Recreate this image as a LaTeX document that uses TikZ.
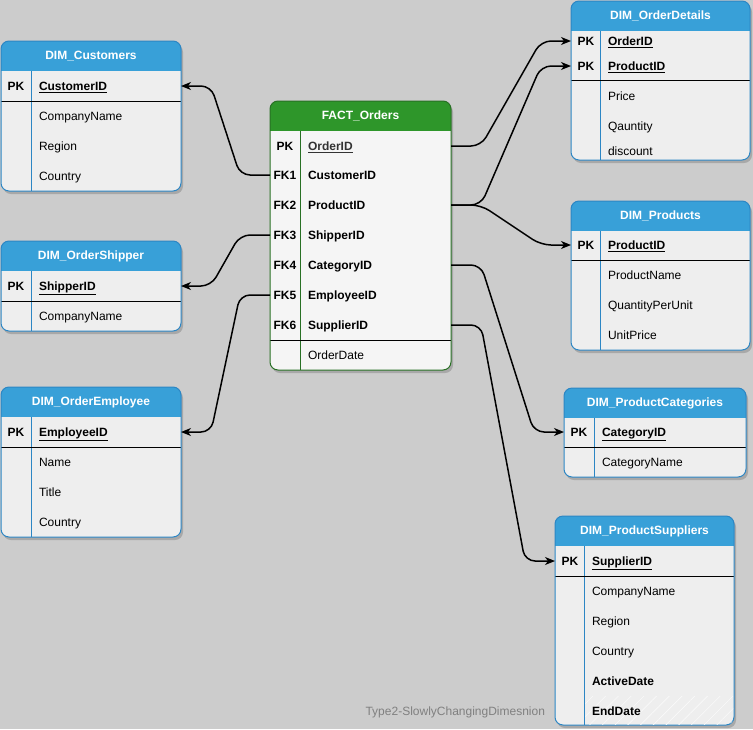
\documentclass[tikz,border=0pt]{standalone}
\usepackage{fontspec}
\setmainfont{Liberation Sans}
\usetikzlibrary{arrows.meta,patterns.meta}

\definecolor{bggray}{RGB}{204,204,204}
\definecolor{dimhead}{RGB}{56,160,216}
\definecolor{dimline}{RGB}{44,134,196}
\definecolor{dimbody}{RGB}{238,238,238}
\definecolor{facthead}{RGB}{46,150,42}
\definecolor{factline}{RGB}{40,112,36}
\definecolor{factbody}{RGB}{245,245,245}
\definecolor{capgray}{RGB}{128,128,128}
\definecolor{shadowgray}{RGB}{168,168,168}
\definecolor{keygray}{RGB}{51,51,51}

\begin{document}
\begin{tikzpicture}[x=1pt,y=-1pt,
  every node/.style={inner sep=0pt, outer sep=0pt, font=\fontsize{12}{14}\selectfont},
  head/.style={text=white, font=\fontsize{12}{14}\selectfont\bfseries},
  key/.style={minimum width=30pt, text height=8.6pt, text depth=0pt, font=\fontsize{12}{14}\selectfont\bfseries},
  fld/.style={anchor=west, text width=#1, inner xsep=8pt, text height=8.6pt, text depth=0pt, align=left},
  fldb/.style={fld=#1, font=\fontsize{12}{14}\selectfont\bfseries},
  link/.style={draw=black, line width=1.5pt, rounded corners=10pt, -{Stealth[length=10pt,width=8pt,inset=3pt]}},
  sep/.style={black, line width=0.8pt}]
  \fill[bggray] (0,0) rectangle (753,729);
  \useasboundingbox (0,0) rectangle (753,729);

  % table frames: x1/y1/x2/y2/header/separator/divider/colours
  \foreach \xa/\ya/\xb/\yb/\yh/\ys/\xd/\hc/\lc/\fc in {
      1/41/181/191/71/101/31/dimhead/dimline/dimbody,
      1/241/181/331/271/301/31/dimhead/dimline/dimbody,
      1/387/181/537/417/447/31/dimhead/dimline/dimbody,
      270/101/451/370/131/340/300/facthead/factline/factbody,
      571/1/750/160/31/80/600/dimhead/dimline/dimbody,
      571/201/750/350/231/260/600/dimhead/dimline/dimbody,
      564/388/746/477/418/447/594/dimhead/dimline/dimbody,
      555/516/734/725/546/576/584/dimhead/dimline/dimbody}{
    \fill[shadowgray, rounded corners=8pt] (\xa+2,\ya+3) rectangle (\xb+2,\yb+3);
    \fill[\fc, rounded corners=8pt] (\xa,\ya) rectangle (\xb,\yb);
    \begin{scope}
      \clip[rounded corners=8pt] (\xa,\ya) rectangle (\xb,\yb);
      \fill[\hc] (\xa,\ya) rectangle (\xb,\yh);
    \end{scope}
    \draw[\lc] (\xd,\yh) -- (\xd,\yb);
    \draw[sep] (\xa,\ys) -- (\xb,\ys);
    \draw[\lc, line width=1pt, rounded corners=8pt] (\xa,\ya) rectangle (\xb,\yb);
  }
  \begin{scope}
    \clip[rounded corners=8pt] (555,516) rectangle (734,725);
    \fill[pattern={Lines[angle=45,distance=9pt,line width=0.6pt]}, pattern color=white!70!dimbody] (585,696) rectangle (733,724);
  \end{scope}

  % DIM_Customers
  \node[head] (cust) at (91,56) {DIM\_Customers};
  \node[key] (cust-pk) at (16,86) {PK};
  \node[fldb=134pt] (cust-id) at (31,86) {\underline{CustomerID}};
  \node[fld=134pt] (cust-name) at (31,116) {CompanyName};
  \node[fld=134pt] (cust-reg) at (31,146) {Region};
  \node[fld=134pt] (cust-ctry) at (31,176) {Country};

  % DIM_OrderShipper
  \node[head] (ship) at (91,256) {DIM\_OrderShipper};
  \node[key] (ship-pk) at (16,286) {PK};
  \node[fldb=134pt] (ship-id) at (31,286) {\underline{ShipperID}};
  \node[fld=134pt] (ship-name) at (31,316) {CompanyName};

  % DIM_OrderEmployee
  \node[head] (emp) at (91,402) {DIM\_OrderEmployee};
  \node[key] (emp-pk) at (16,432) {PK};
  \node[fldb=134pt] (emp-id) at (31,432) {\underline{EmployeeID}};
  \node[fld=134pt] (emp-name) at (31,462) {Name};
  \node[fld=134pt] (emp-title) at (31,492) {Title};
  \node[fld=134pt] (emp-ctry) at (31,522) {Country};

  % FACT_Orders
  \node[head] (fact) at (360.5,116) {FACT\_Orders};
  \node[key] (fact-pk) at (285,146) {PK};
  \node[fldb=135pt, text=keygray] (fact-oid) at (300,146) {\underline{OrderID}};
  \node[key] (fact-fk1) at (285,175) {FK1};
  \node[fldb=135pt] (fact-cust) at (300,175) {CustomerID};
  \node[key] (fact-fk2) at (285,205) {FK2};
  \node[fldb=135pt] (fact-prod) at (300,205) {ProductID};
  \node[key] (fact-fk3) at (285,235) {FK3};
  \node[fldb=135pt] (fact-ship) at (300,235) {ShipperID};
  \node[key] (fact-fk4) at (285,265) {FK4};
  \node[fldb=135pt] (fact-cat) at (300,265) {CategoryID};
  \node[key] (fact-fk5) at (285,295) {FK5};
  \node[fldb=135pt] (fact-emp) at (300,295) {EmployeeID};
  \node[key] (fact-fk6) at (285,325) {FK6};
  \node[fldb=135pt] (fact-sup) at (300,325) {SupplierID};
  \node[fld=135pt] (fact-date) at (300,355) {OrderDate};

  % DIM_OrderDetails
  \node[head] (det) at (660.5,16) {DIM\_OrderDetails};
  \node[key] (det-pk1) at (586,41) {PK};
  \node[fldb=134pt] (det-oid) at (600,41) {\underline{OrderID}};
  \node[key] (det-pk2) at (586,66) {PK};
  \node[fldb=134pt] (det-pid) at (600,66) {\underline{ProductID}};
  \node[fld=134pt] (det-price) at (600,96) {Price};
  \node[fld=134pt] (det-qty) at (600,126) {Qauntity};
  \node[fld=134pt] (det-disc) at (600,151) {discount};

  % DIM_Products
  \node[head] (prod) at (660.5,216) {DIM\_Products};
  \node[key] (prod-pk) at (586,245) {PK};
  \node[fldb=134pt] (prod-id) at (600,245) {\underline{ProductID}};
  \node[fld=134pt] (prod-name) at (600,275) {ProductName};
  \node[fld=134pt] (prod-qpu) at (600,305) {QuantityPerUnit};
  \node[fld=134pt] (prod-price) at (600,335) {UnitPrice};

  % DIM_ProductCategories
  \node[head] (cat) at (655,403) {DIM\_ProductCategories};
  \node[key] (cat-pk) at (579,432) {PK};
  \node[fldb=136pt] (cat-id) at (594,432) {\underline{CategoryID}};
  \node[fld=136pt] (cat-name) at (594,462) {CategoryName};

  % DIM_ProductSuppliers
  \node[head] (sup) at (644.5,531) {DIM\_ProductSuppliers};
  \node[key] (sup-pk) at (570,561) {PK};
  \node[fldb=134pt] (sup-id) at (584,561) {\underline{SupplierID}};
  \node[fld=134pt] (sup-name) at (584,591) {CompanyName};
  \node[fld=134pt] (sup-reg) at (584,621) {Region};
  \node[fld=134pt] (sup-ctry) at (584,651) {Country};
  \node[fldb=134pt] (sup-act) at (584,681) {ActiveDate};
  \node[fldb=134pt] (sup-end) at (584,711) {EndDate};

  \node[anchor=east, text=capgray, font=\fontsize{12}{14}\selectfont] (note) at (545,712) {Type2-SlowlyChangingDimesnion};

  % relations
  \draw[link] (fact-fk1.west) -- ++(-30,0) -- ([xshift=30pt]cust-id.east) -- (cust-id.east);
  \draw[link] (fact-fk3.west) -- ++(-30,0) -- ([xshift=30pt]ship-id.east) -- (ship-id.east);
  \draw[link] (fact-fk5.west) -- ++(-30,0) -- ([xshift=30pt]emp-id.east) -- (emp-id.east);
  \draw[link] (fact-oid.east) -- ++(30,0) -- ([xshift=-30pt]det-pk1.west) -- (det-pk1.west);
  \draw[link] (fact-prod.east) -- ++(30,0) -- ([xshift=-30pt]det-pk2.west) -- (det-pk2.west);
  \draw[link] (fact-prod.east) -- ++(30,0) -- ([xshift=-30pt]prod-pk.west) -- (prod-pk.west);
  \draw[link] (fact-cat.east) -- ++(30,0) -- ([xshift=-30pt]cat-pk.west) -- (cat-pk.west);
  \draw[link] (fact-sup.east) -- ++(30,0) -- ([xshift=-30pt]sup-pk.west) -- (sup-pk.west);
\end{tikzpicture}
\end{document}
